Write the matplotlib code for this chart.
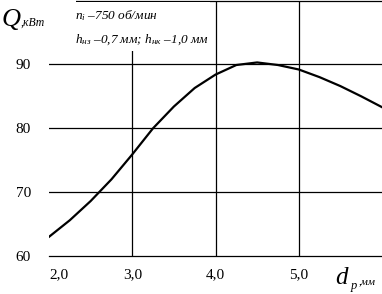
import numpy as np
import matplotlib.pyplot as plt
from matplotlib.patches import Rectangle

plt.rcParams['font.family'] = ['Liberation Serif', 'DejaVu Serif']
plt.rcParams['mathtext.fontset'] = 'custom'
plt.rcParams['mathtext.rm'] = 'Liberation Serif'
plt.rcParams['mathtext.it'] = 'Liberation Serif:italic'

# curve
d_p = [2.0, 2.25, 2.5, 2.75, 3.0, 3.25, 3.5, 3.75, 4.0, 4.25, 4.5, 4.75,
       5.0, 5.25, 5.5, 5.75, 6.0]
Q = [63.0, 65.6, 68.6, 72.0, 75.9, 80.0, 83.4, 86.3, 88.4, 89.9, 90.3, 89.9,
     89.2, 88.0, 86.6, 85.0, 83.3]

x_ticks = [2.0, 3.0, 4.0, 5.0]
x_labels = ['2,0', '3,0', '4,0', '5,0']
y_ticks = [60, 70, 80, 90]
y_labels = ['60', '70', '80', '90']

W, H = 382, 294
fig = plt.figure(figsize=(W / 100, H / 100), dpi=100)
ax = fig.add_axes([49 / W, 38 / H, 1 - 49 / W, 1 - 38 / H - 0.5 / H])

ax.plot(d_p, Q, color='black', lw=1.6, zorder=3)
ax.set_xlim(2.0, 6.0)
ax.set_ylim(60, 100)

for xv in x_ticks[1:]:
    ax.axvline(xv, color='black', lw=0.9, zorder=1)
for yv in y_ticks[1:]:
    ax.axhline(yv, color='black', lw=0.9, zorder=1)

ax.set_xticks(x_ticks)
ax.set_xticklabels(x_labels, fontsize=11)
ax.get_xticklabels()[0].set_horizontalalignment('left')
ax.set_yticks(y_ticks)
ax.set_yticklabels(y_labels, fontsize=11)
ax.tick_params(length=0, pad=9)
ax.tick_params(axis='y', pad=13)

for s in ['left', 'right']:
    ax.spines[s].set_visible(False)
for s in ['top', 'bottom']:
    ax.spines[s].set_linewidth(0.9)

def px(x, y):
    return x / W, 1 - y / H

# white patches over the grid under the labels
fig.patches.append(Rectangle(px(0, 32), 76 / W, 32 / H, transform=fig.transFigure,
                             facecolor='white', edgecolor='none', zorder=5))
fig.patches.append(Rectangle(px(72, 51), 138 / W, 49 / H, transform=fig.transFigure,
                             facecolor='white', edgecolor='none', zorder=5))

# axis labels
fig.text(*px(1, 26), '$Q$', fontsize=19, va='baseline', zorder=6)
fig.text(*px(21, 26), ',кВт', fontsize=8.5, style='italic', va='baseline', zorder=6)
fig.text(*px(335, 284), '$d$', fontsize=18, va='baseline', zorder=6)
fig.text(*px(350, 289), '$p$', fontsize=9, va='baseline', zorder=6)
fig.text(*px(359, 284), ',мм', fontsize=8, style='italic', va='baseline', zorder=6)

# annotation
fig.text(*px(75, 19), '$n_i$ –750 об/мин', fontsize=9.5, style='italic',
         va='baseline', zorder=6)
fig.text(*px(75, 43), '$h_{нз}$ –0,7 мм; $h_{нк}$ –1,0 мм', fontsize=9.5,
         style='italic', va='baseline', zorder=6)

fig.savefig('out.png', dpi=100)
